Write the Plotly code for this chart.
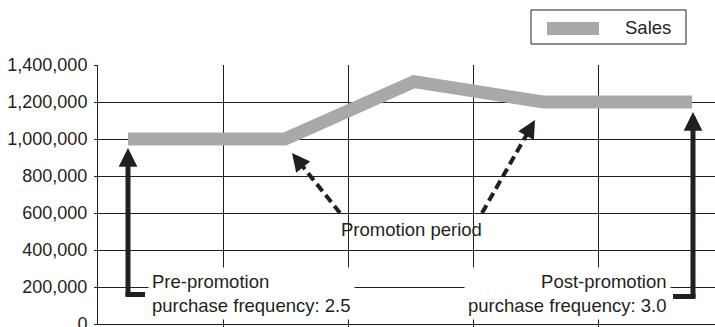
import plotly.graph_objects as go

# ---- data ----
period_x = [0.24, 1.496, 2.528, 3.56, 4.752]          # position along the time axis
sales = [1000000, 1000000, 1310000, 1200000, 1200000]
y_ticks = [0, 200000, 400000, 600000, 800000, 1000000, 1200000, 1400000]
y_tick_labels = [f"{v:,}" for v in y_ticks]
x_grid = [1, 2, 3, 4]
series_name = "Sales"
pre_label = "Pre-promotion<br>purchase frequency: 2.5"
post_label = "Post-promotion<br>purchase frequency: 3.0"
promo_label = "Promotion period"

INK = "#231f20"
GREY = "#a7a9ac"
FONT = "Liberation Sans, Arial, Helvetica, sans-serif"

fig = go.Figure()
fig.add_trace(go.Scatter(
    x=period_x, y=sales, mode="lines", name=series_name,
    line=dict(color=GREY, width=13), showlegend=False, hoverinfo="skip",
))

shapes = []
annotations = []

# ---- legend (drawn as box + swatch + label, paper coords) ----
shapes.append(dict(type="rect", xref="paper", yref="paper",
                   x0=0.7018, x1=0.953, y0=1.081, y1=1.2124,
                   line=dict(color=INK, width=1), fillcolor="white", layer="above"))
shapes.append(dict(type="line", xref="paper", yref="paper",
                   x0=0.7277, x1=0.812, y0=1.141, y1=1.141,
                   line=dict(color=GREY, width=13), layer="above"))
annotations.append(dict(text=series_name, xref="paper", yref="paper",
                        x=0.8509, y=1.143, xanchor="left", yanchor="middle",
                        showarrow=False, font=dict(size=18.5, color=INK, family=FONT)))

# ---- solid arrows with feet (pre / post) ----
def solid_arrow(x, y_tip, y_tail):
    annotations.append(dict(text="", x=x, y=y_tip, ax=x, ay=y_tail,
                            xref="x", yref="y", axref="x", ayref="y",
                            showarrow=True, arrowhead=2, arrowsize=0.75,
                            arrowwidth=5, arrowcolor=INK))

solid_arrow(period_x[0], 951000, 146000)
shapes.append(dict(type="line", xref="x", yref="y", x0=0.22, x1=0.376,
                   y0=159500, y1=159500, line=dict(color=INK, width=5)))
solid_arrow(4.76, 1146000, 135000)
shapes.append(dict(type="line", xref="x", yref="y", x0=4.60, x1=4.78,
                   y0=148600, y1=148600, line=dict(color=INK, width=5)))

# ---- dashed arrows (promotion period) ----
def dashed_arrow(x_tail, y_tail, x_end, y_end, x_tip, y_tip, ax, ay):
    shapes.append(dict(type="line", xref="x", yref="y", x0=x_tail, y0=y_tail,
                       x1=x_end, y1=y_end,
                       line=dict(color=INK, width=4, dash="9px,5px")))
    annotations.append(dict(text="", x=x_tip, y=y_tip, ax=ax, ay=ay,
                            xref="x", yref="y", showarrow=True, arrowhead=2,
                            arrowsize=0.9, arrowwidth=4, arrowcolor=INK))

dashed_arrow(1.936, 600000, 1.6016, 882000, 1.552, 924000, 10, 12.5)
dashed_arrow(3.072, 600000, 3.4564, 1055700, 3.496, 1102700, -8, 14)

# ---- text labels ----
annotations.append(dict(text=promo_label, x=2.504, y=513500, xref="x", yref="y",
                        showarrow=False, xanchor="center", yanchor="middle",
                        font=dict(size=18.5, color=INK, family=FONT)))
annotations.append(dict(text=pre_label, x=0.4, y=166000, xref="x", yref="y",
                        showarrow=False, xanchor="left", yanchor="middle", align="left",
                        bgcolor="white", borderpad=3,
                        font=dict(size=18.5, color=INK, family=FONT)))
annotations.append(dict(text=post_label, x=4.584, y=166000, xref="x", yref="y",
                        showarrow=False, xanchor="right", yanchor="middle", align="right",
                        bgcolor="white", borderpad=3,
                        font=dict(size=18.5, color=INK, family=FONT)))

fig.update_layout(
    width=715, height=327,
    margin=dict(l=98, r=0, t=65, b=3, pad=0, autoexpand=False),
    paper_bgcolor="white", plot_bgcolor="white",
    font=dict(family=FONT, color=INK, size=18),
    shapes=shapes, annotations=annotations,
    xaxis=dict(range=[0, 4.936], tickvals=x_grid, showticklabels=False,
               showgrid=True, gridcolor=INK, gridwidth=1,
               showline=True, linecolor=INK, linewidth=1,
               ticks="outside", ticklen=3, tickcolor=INK,
               zeroline=False, fixedrange=True, automargin=False),
    yaxis=dict(range=[0, 1400000], tickvals=y_ticks, ticktext=y_tick_labels,
               showgrid=True, gridcolor=INK, gridwidth=1,
               showline=True, linecolor=INK, linewidth=1,
               ticks="outside", ticklen=3, tickcolor=INK, ticklabelstandoff=3,
               ticklabeloverflow="allow",
               tickfont=dict(size=18, color=INK, family=FONT),
               zeroline=False, fixedrange=True, automargin=False),
    showlegend=False,
)

fig.write_html(
    "out.html",
    config={"displayModeBar": False},
    post_script="document.body.style.margin='0';document.body.style.overflow='hidden';",
)
